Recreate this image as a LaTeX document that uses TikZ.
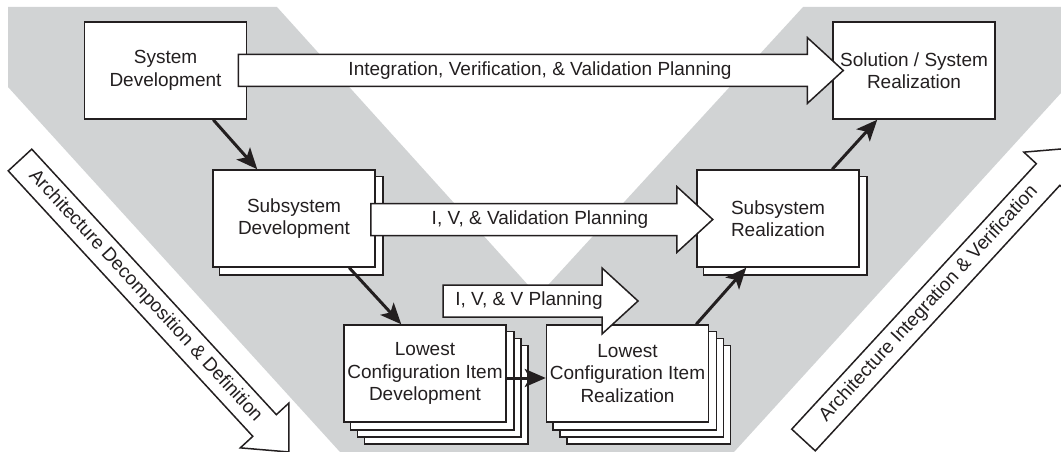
\documentclass[tikz,border=0pt]{standalone}
\usepackage{fontspec}
\setmainfont{Liberation Sans}
\usetikzlibrary{arrows.meta,calc}

\definecolor{band}{RGB}{209,211,212}
\definecolor{ink}{RGB}{35,31,32}

\pgfdeclarelayer{backdrop}
\pgfdeclarelayer{stack}
\pgfsetlayers{backdrop,stack,main}

\tikzset{
  stage/.style={draw=ink, fill=white, line width=1.5pt, minimum width=162pt,
    minimum height=97pt, inner sep=0pt, align=center, text=ink,
    font=\fontsize{19}{22.5}\selectfont},
  sheet/.style={draw=ink, fill=white, line width=1.5pt},
  flow/.style={draw=ink, line width=3pt, -{Stealth[length=21pt,width=18pt,inset=5pt]}},
  planarrow/.style={draw=ink, fill=white, line width=1.5pt, line join=miter},
  plantext/.style={text=ink, font=\fontsize{19}{22.5}\selectfont, inner sep=0pt},
}

% hollow block arrow: tail centre, direction, total length
\newcommand\blockarrow[3]{%
  \begin{scope}[shift={#1}, rotate=#2]
    \path[planarrow] (0pt,-16pt) -- ({#3-36pt},-16pt) -- ({#3-36pt},-33pt)
      -- (#3,0pt) -- ({#3-36pt},33pt) -- ({#3-36pt},16pt) -- (0pt,16pt) -- cycle;
  \end{scope}}

\begin{document}
\begin{tikzpicture}[x=1pt,y=-1pt]
\useasboundingbox (0,0) rectangle (1061,452);
\clip (0,0) rectangle (1061,452);

% grey V band
\begin{pgfonlayer}{backdrop}
  \fill[band] (8,7) -- (277,7) -- (538,296) -- (803,7) -- (1061,7) -- (1061,93)
    -- (734,452) -- (340,452) -- (8,87) -- cycle;
\end{pgfonlayer}

% stages
\node[stage] (sysdev)   at (165.5,70.5) {System\\Development};
\node[stage] (solution) at (914,70.5)   {Solution / System\\Realization};
\node[stage] (subdev)   at (294,218.5)  {Subsystem\\Development};
\node[stage] (subreal)  at (778,218.5)  {Subsystem\\Realization};
\node[stage] (lcidev)   at (425,373.5)  {Lowest\\Configuration Item\\Development};
\node[stage] (lcireal)  at (627.5,373.5){Lowest\\Configuration Item\\Realization};

% stacked sheets behind the lower stages
\begin{pgfonlayer}{stack}
  \foreach \nm in {subdev,subreal}
    \path[sheet] ([shift={(7pt,-7pt)}]\nm.north west) rectangle ([shift={(7pt,-7pt)}]\nm.south east);
  \foreach \nm in {lcidev,lcireal}
    \foreach \k in {3,2,1}
      \path[sheet] ([shift={({7pt*\k},{-7pt*\k})}]\nm.north west)
        rectangle ([shift={({7pt*\k},{-7pt*\k})}]\nm.south east);
\end{pgfonlayer}

% planning block arrows
\blockarrow{([xshift=-9pt]sysdev.east)}{0}{605pt}
\blockarrow{([xshift=-5pt,yshift=-1pt]subdev.east)}{0}{342pt}
\coordinate (lowtail) at (443,301);
\blockarrow{(lowtail)}{0}{195pt}

\node[plantext] (ivvplan)  at (540,71)  {Integration, Verification, \& Validation Planning};
\node[plantext] (ivvalplan) at (540,220) {I, V, \& Validation Planning};
\node[plantext] (ivvlow)   at (529,301) {I, V, \& V Planning};

% side arrows
\coordinate (decomptail) at (20,160);
\coordinate (integtail)  at (803.5,440);
\blockarrow{(decomptail)}{-47.35}{397pt}
\blockarrow{(integtail)}{47.35}{397pt}
\node[plantext, rotate=-47.35] (decomp) at (145.4,296.2) {Architecture Decomposition \& Definition};
\node[plantext, rotate=47.35]  (integ)  at (928.9,303.8) {Architecture Integration \& Verification};

% flow between stages
\draw[flow] ([xshift=-34pt]sysdev.south east) -- ([xshift=45pt]subdev.north west);
\draw[flow] ([xshift=137pt]subdev.south west) -- ([xshift=58pt]lcidev.north west);
\draw[flow] ([yshift=-4.5pt]lcidev.east) -- ([yshift=-4.5pt]lcireal.west);
\draw[flow] ([xshift=-13pt]lcireal.north east) -- ([xshift=50pt]subreal.south west);
\draw[flow] ([xshift=136pt]subreal.north west) -- ([xshift=45pt]solution.south west);
\end{tikzpicture}
\end{document}
